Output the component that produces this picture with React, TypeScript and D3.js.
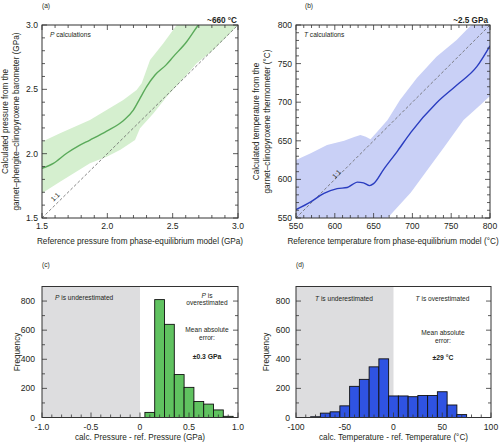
import React from "react";
import * as d3 from "d3";

// ---- Panel (a): pressure ----
const aLineRef = [1.5, 1.587, 1.689, 1.78, 1.867, 1.995, 2.122, 2.199, 2.25, 2.301, 2.365, 2.45, 2.505, 2.607, 2.696, 2.75];
const aLineCalc = [1.886, 1.925, 2.003, 2.06, 2.106, 2.176, 2.256, 2.339, 2.43, 2.521, 2.611, 2.69, 2.754, 2.87, 3.0, 3.07];
const aUpperRef = [1.5, 1.638, 1.867, 2.122, 2.224, 2.263, 2.327, 2.429, 2.531, 2.65, 2.8, 3.0];
const aUpperVal = [2.093, 2.158, 2.262, 2.417, 2.495, 2.547, 2.728, 2.858, 3.0, 3.12, 3.25, 3.4];
const aLowerRef = [1.5, 1.638, 1.867, 1.995, 2.1, 2.212, 2.25, 2.352, 2.454, 2.582, 2.684, 2.811, 2.913, 3.0];
const aLowerVal = [1.692, 1.782, 1.925, 1.977, 2.03, 2.106, 2.197, 2.313, 2.443, 2.585, 2.702, 2.806, 2.909, 3.0];
const aTicks = [1.5, 2.0, 2.5, 3.0];

// ---- Panel (b): temperature ----
const bLineRef = [550, 569, 586, 603, 616, 623, 629, 637, 645, 650, 663, 681, 698, 731, 757, 783, 800];
const bLineCalc = [561, 571, 582, 588, 589.5, 593.5, 596.5, 595.5, 592, 594.5, 613, 637, 661, 699, 722, 746, 773];
const bUpperRef = [550, 569, 590, 612, 625, 633, 640, 646, 653, 668, 684, 705.5, 731, 757, 774, 790, 800];
const bUpperVal = [625, 634, 644.6, 650, 655, 657.5, 655.3, 652, 659.7, 677, 703, 731, 759, 780.6, 798, 810, 816];
const bLowerRef = [550, 620, 668, 698, 719, 741, 766, 785, 800];
const bLowerVal = [470, 510, 550, 583, 612, 642, 677, 694, 708];
const bTicks = [550, 600, 650, 700, 750, 800];

// ---- Panel (c): pressure error histogram ----
const cCenters = [0.1, 0.2, 0.3, 0.4, 0.5, 0.6, 0.7, 0.8, 0.9];
const cCounts = [35, 810, 640, 295, 207, 110, 92, 52, 8];
const cBinWidth = 0.1;
const cXTicks = [-1.0, -0.5, 0, 0.5, 1.0];
const cXLabels = ["-1.0", "-0.5", "0", "0.5", "1.0"];

// ---- Panel (d): temperature error histogram ----
const dCenters = [-80, -70, -60, -50, -40, -30, -20, -10, 0, 10, 20, 30, 40, 50, 60, 70];
const dCounts = [5, 30, 39, 80, 214, 262, 348, 403, 148, 148, 143, 151, 151, 177, 86, 20];
const dBinWidth = 10;
const dXTicks = [-100, -50, 0, 50, 100];
const freqTicks = [0, 200, 400, 600, 800];

const FONT = "'Liberation Sans', Arial, Helvetica, sans-serif";
const TXT = "#231f20";

type Sc = d3.ScaleLinear<number, number>;

function Frame({ x, y, xMinor, xMajor, yMinor, yMajor, top = true, id }: {
  x: Sc; y: Sc; xMinor: number[]; xMajor: number[]; yMinor: number[]; yMajor: number[]; top?: boolean; id: string;
}) {
  const [x0, x1] = x.range();
  const [y1, y0] = y.range();
  const maj = 5, mn = 3;
  const isMaj = (arr: number[], v: number) => arr.some((m) => Math.abs(m - v) < 1e-6);
  const els: React.ReactNode[] = [];
  xMinor.forEach((v, i) => {
    const L = isMaj(xMajor, v) ? maj : mn;
    const px = x(v);
    els.push(<line key={`xb${i}`} x1={px} x2={px} y1={y1} y2={y1 - L} />);
    if (top) els.push(<line key={`xt${i}`} x1={px} x2={px} y1={y0} y2={y0 + L} />);
  });
  yMinor.forEach((v, i) => {
    const L = isMaj(yMajor, v) ? maj : mn;
    const py = y(v);
    els.push(<line key={`yl${i}`} x1={x0} x2={x0 + L} y1={py} y2={py} />);
    els.push(<line key={`yr${i}`} x1={x1} x2={x1 - L} y1={py} y2={py} />);
  });
  return (
    <g stroke="#333" strokeWidth={0.8} fill="none" key={id}>
      {els}
      <rect x={x0} y={y0} width={x1 - x0} height={y1 - y0} strokeWidth={1} />
    </g>
  );
}

function bandPath(x: Sc, y: Sc, uR: number[], uV: number[], lR: number[], lV: number[]) {
  const up = uR.map((r, i) => [x(r), y(uV[i])] as [number, number]);
  const lo = lR.map((r, i) => [x(r), y(lV[i])] as [number, number]).reverse();
  return d3.line().curve(d3.curveLinearClosed)([...up, ...lo]) || "";
}

export default function App() {
  const xA = d3.scaleLinear([1.5, 3], [42, 238]);
  const yA = d3.scaleLinear([1.5, 3], [218, 25]);
  const xB = d3.scaleLinear([550, 800], [296, 490]);
  const yB = d3.scaleLinear([550, 800], [218, 25]);
  const xC = d3.scaleLinear([-1, 1], [42, 238]);
  const yC = d3.scaleLinear([0, 900], [417.5, 286.5]);
  const xD = d3.scaleLinear([-100, 100], [296, 491]);
  const yD = d3.scaleLinear([0, 900], [417.5, 286.5]);

  const lineA = d3.line<number>().x((_, i) => xA(aLineRef[i])).y((v) => yA(v)).curve(d3.curveMonotoneX)(aLineCalc) || "";
  const lineB = d3.line<number>().x((_, i) => xB(bLineRef[i])).y((v) => yB(v)).curve(d3.curveMonotoneX)(bLineCalc) || "";

  const r1 = (a: number, b: number, s: number) => d3.range(a, b + s / 2, s);

  const tickFont = { fontFamily: FONT, fontSize: 8.6, fill: TXT } as const;
  const labFont = { fontFamily: FONT, fontSize: 8.2, fill: TXT } as const;
  const smallFont = { fontFamily: FONT, fontSize: 6.6, fill: TXT } as const;

  return (
    <svg width={500} height={443} style={{ position: "absolute", left: 0, top: 0 }} xmlns="http://www.w3.org/2000/svg">
      <defs>
        <clipPath id="clipA"><rect x={42} y={25} width={196} height={193} /></clipPath>
        <clipPath id="clipB"><rect x={296} y={25} width={194} height={193} /></clipPath>
      </defs>
      <rect x={0} y={0} width={500} height={443} fill="#fff" />

      {/* ---------- (a) ---------- */}
      <text x={42} y={8} {...smallFont}>(a)</text>
      <g clipPath="url(#clipA)">
        <path d={bandPath(xA, yA, aUpperRef, aUpperVal, aLowerRef, aLowerVal)} fill="#d5efcf" />
        <line x1={xA(1.5)} y1={yA(1.5)} x2={xA(3)} y2={yA(3)} stroke="#666" strokeWidth={0.8} strokeDasharray="3,2" />
        <path d={lineA} fill="none" stroke="#5aaa5a" strokeWidth={1.4} />
      </g>
      <text transform={`translate(${xA(1.6)},${yA(1.665)}) rotate(-45)`} textAnchor="middle" dominantBaseline="central" {...smallFont}>1:1</text>
      <Frame id="fa" x={xA} y={yA} xMinor={r1(1.5, 3, 0.1)} xMajor={aTicks} yMinor={r1(1.5, 3, 0.1)} yMajor={aTicks} />
      <text x={50} y={37} {...smallFont}><tspan fontStyle="italic">P</tspan> calculations</text>
      <text x={237} y={23} textAnchor="end" fontFamily={FONT} fontSize={8.2} fontWeight="bold" fill={TXT}>~660 °C</text>
      {aTicks.map((t) => (
        <text key={`axl${t}`} x={xA(t)} y={229} textAnchor="middle" {...tickFont}>{t.toFixed(1)}</text>
      ))}
      {aTicks.map((t) => (
        <text key={`ayl${t}`} x={38} y={yA(t)} textAnchor="end" dominantBaseline="central" {...tickFont}>{t.toFixed(1)}</text>
      ))}
      <text x={140} y={244} textAnchor="middle" {...labFont}>Reference pressure from phase-equilibrium model (GPa)</text>
      <text transform={`translate(5.5,121.5) rotate(-90)`} textAnchor="middle" dominantBaseline="central" {...labFont}>Calculated pressure from the</text>
      <text transform={`translate(16.5,121.5) rotate(-90)`} textAnchor="middle" dominantBaseline="central" {...labFont}>garnet–phengite–clinopyroxene barometer (GPa)</text>

      {/* ---------- (b) ---------- */}
      <text x={305} y={8} {...smallFont}>(b)</text>
      <g clipPath="url(#clipB)">
        <path d={bandPath(xB, yB, bUpperRef, bUpperVal, bLowerRef, bLowerVal)} fill="#c9d0f6" />
        <line x1={xB(550)} y1={yB(550)} x2={xB(800)} y2={yB(800)} stroke="#666" strokeWidth={0.8} strokeDasharray="3,2" />
        <path d={lineB} fill="none" stroke="#2a3dc0" strokeWidth={1.4} />
      </g>
      <text transform={`translate(${xB(602)},${yB(607)}) rotate(-45)`} textAnchor="middle" dominantBaseline="central" {...smallFont}>1:1</text>
      <Frame id="fb" x={xB} y={yB} xMinor={r1(550, 800, 10)} xMajor={bTicks} yMinor={r1(550, 800, 10)} yMajor={bTicks} />
      <text x={304} y={37} {...smallFont}><tspan fontStyle="italic">T</tspan> calculations</text>
      <text x={488} y={23} textAnchor="end" fontFamily={FONT} fontSize={8.2} fontWeight="bold" fill={TXT}>~2.5 GPa</text>
      {bTicks.map((t) => (
        <text key={`bxl${t}`} x={xB(t)} y={229} textAnchor="middle" {...tickFont}>{t}</text>
      ))}
      {bTicks.map((t) => (
        <text key={`byl${t}`} x={292} y={yB(t)} textAnchor="end" dominantBaseline="central" {...tickFont}>{t}</text>
      ))}
      <text x={393} y={244} textAnchor="middle" {...labFont}>Reference temperature from phase-equilibrium model (°C)</text>
      <text transform={`translate(256,121.5) rotate(-90)`} textAnchor="middle" dominantBaseline="central" {...labFont}>Calculated temperature from the</text>
      <text transform={`translate(267,121.5) rotate(-90)`} textAnchor="middle" dominantBaseline="central" {...labFont}>garnet–clinopyroxene thermometer (°C)</text>

      {/* ---------- (c) ---------- */}
      <text x={42} y={267} {...smallFont}>(c)</text>
      <rect x={xC(-1)} y={yC(900)} width={xC(0) - xC(-1)} height={yC(0) - yC(900)} fill="#dddddf" />
      {cCenters.map((c, i) => (
        <rect key={`cb${i}`} x={xC(c - cBinWidth / 2)} y={yC(cCounts[i])} width={xC(c + cBinWidth / 2) - xC(c - cBinWidth / 2)}
          height={yC(0) - yC(cCounts[i])} fill="#60c260" stroke="#111" strokeWidth={0.9} />
      ))}
      <Frame id="fc" x={xC} y={yC} xMinor={r1(-1, 1, 0.1)} xMajor={cXTicks} yMinor={r1(0, 900, 100)} yMajor={freqTicks} top={false} />
      <text x={55} y={300} {...smallFont}><tspan fontStyle="italic">P</tspan> is underestimated</text>
      <text x={207} y={298} textAnchor="middle" {...smallFont}><tspan fontStyle="italic">P</tspan> is</text>
      <text x={207} y={305} textAnchor="middle" {...smallFont}>overestimated</text>
      <text x={207} y={332} textAnchor="middle" {...smallFont}>Mean absolute</text>
      <text x={207} y={339.5} textAnchor="middle" {...smallFont}>error:</text>
      <text x={207} y={359} textAnchor="middle" fontFamily={FONT} fontSize={6.8} fontWeight="bold" fill={TXT}>±0.3 GPa</text>
      {cXTicks.map((t, i) => (
        <text key={`cxl${t}`} x={xC(t)} y={430} textAnchor="middle" {...tickFont}>{cXLabels[i]}</text>
      ))}
      {freqTicks.map((t) => (
        <text key={`cyl${t}`} x={35} y={yC(t)} textAnchor="end" dominantBaseline="central" {...tickFont}>{t}</text>
      ))}
      <text x={140} y={440} textAnchor="middle" {...labFont}>calc. Pressure - ref. Pressure (GPa)</text>
      <text transform={`translate(17,352) rotate(-90)`} textAnchor="middle" dominantBaseline="central" {...labFont}>Frequency</text>

      {/* ---------- (d) ---------- */}
      <text x={296} y={267} {...smallFont}>(d)</text>
      <rect x={xD(-100)} y={yD(900)} width={xD(0) - xD(-100)} height={yD(0) - yD(900)} fill="#dddddf" />
      {dCenters.map((c, i) => (
        <rect key={`db${i}`} x={xD(c - dBinWidth / 2)} y={yD(dCounts[i])} width={xD(c + dBinWidth / 2) - xD(c - dBinWidth / 2)}
          height={yD(0) - yD(dCounts[i])} fill="#2f53e2" stroke="#111" strokeWidth={0.9} />
      ))}
      <Frame id="fd" x={xD} y={yD} xMinor={r1(-100, 100, 10)} xMajor={dXTicks} yMinor={r1(0, 900, 100)} yMajor={freqTicks} top={false} />
      <text x={344} y={301} textAnchor="middle" {...smallFont}><tspan fontStyle="italic">T</tspan> is underestimated</text>
      <text x={442.5} y={301} textAnchor="middle" {...smallFont}><tspan fontStyle="italic">T</tspan> is overestimated</text>
      <text x={443} y={335} textAnchor="middle" {...smallFont}>Mean absolute</text>
      <text x={443} y={343} textAnchor="middle" {...smallFont}>error:</text>
      <text x={443} y={360} textAnchor="middle" fontFamily={FONT} fontSize={6.8} fontWeight="bold" fill={TXT}>±29 °C</text>
      {dXTicks.map((t) => (
        <text key={`dxl${t}`} x={xD(t)} y={430} textAnchor="middle" {...tickFont}>{t}</text>
      ))}
      {freqTicks.map((t) => (
        <text key={`dyl${t}`} x={290} y={yD(t)} textAnchor="end" dominantBaseline="central" {...tickFont}>{t}</text>
      ))}
      <text x={393.5} y={440} textAnchor="middle" {...labFont}>calc. Temperature - ref. Temperature (°C)</text>
      <text transform={`translate(266,352) rotate(-90)`} textAnchor="middle" dominantBaseline="central" {...labFont}>Frequency</text>
    </svg>
  );
}
